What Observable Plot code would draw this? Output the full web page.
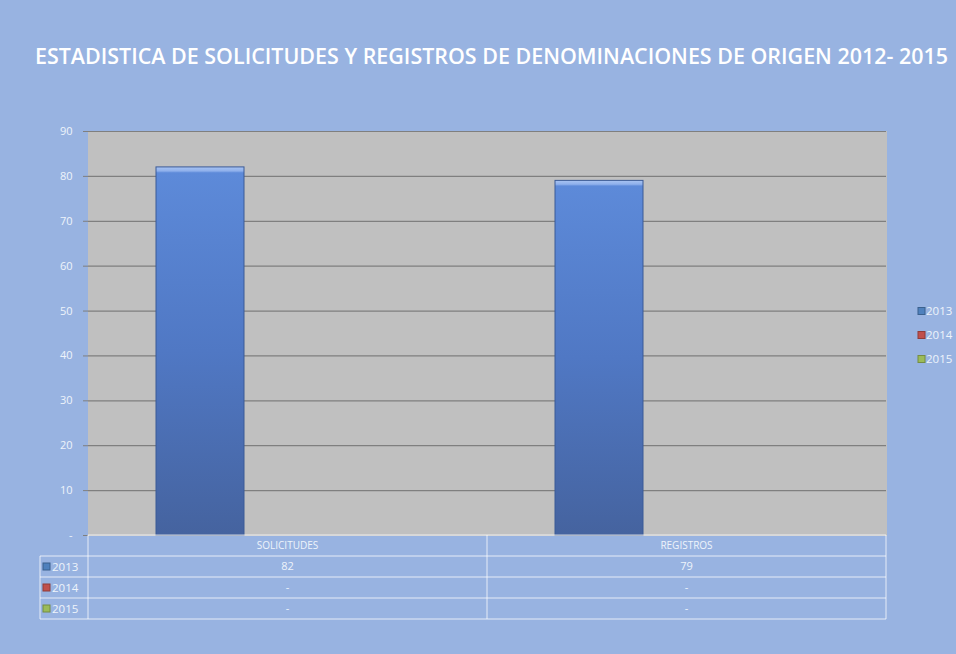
<!DOCTYPE html>
<html>
<head>
<meta charset="utf-8">
<script src="https://cdn.jsdelivr.net/npm/d3@7"></script>
<script src="https://cdn.jsdelivr.net/npm/@observablehq/plot@0.6"></script>
<style>
  html, body { margin: 0; padding: 0; background: #98b3e1; overflow: hidden; }
  #chart svg { display: block; }
</style>
</head>
<body>
<div id="chart"></div>
<script>
// ---- data ----
const titleText = "ESTADISTICA DE SOLICITUDES Y REGISTROS DE DENOMINACIONES DE ORIGEN 2012- 2015";
const categories = ["SOLICITUDES", "REGISTROS"];
const years = ["2013", "2014", "2015"];
const values2013 = [82, 79];
const values2014 = [null, null];
const values2015 = [null, null];
const yTicks = [0, 10, 20, 30, 40, 50, 60, 70, 80, 90];

// ---- styles ----
const seriesColors = ["#4f81bd", "#c0504d", "#9bbb59"];
const font = "'Open Sans', sans-serif";
const textColor = "#eef3fb";
const lineColor = "rgba(255,255,255,0.75)";

const seriesValues = [values2013, values2014, values2015];
const rows = categories.flatMap((c, i) =>
  years.map((y, j) => ({ category: c, year: y, value: seriesValues[j][i] }))
);

const W = 956, H = 654;
const plot = Plot.plot({
  width: W, height: H,
  marginTop: 131, marginBottom: 119, marginLeft: 88, marginRight: 70,
  style: { background: "transparent", fontFamily: font, overflow: "visible" },
  fx: { domain: categories, padding: 0, axis: null, label: null },
  x: { domain: years, paddingInner: 0, paddingOuter: 0.767, axis: null },
  y: { domain: [0, 90], axis: null },
  marks: [
    Plot.frame({ fill: "#c0c0c0", stroke: "#c0c0c0" }),
    Plot.gridY(yTicks.filter(d => d > 0), { stroke: "#7f7f7f", strokeOpacity: 1, strokeWidth: 1.2 }),
    Plot.axisY(yTicks, {
      tickSize: 5, tickPadding: 11, stroke: "#7f7f7f",
      tickFormat: d => d === 0 ? "-" : d,
      fill: textColor, fontSize: 11, label: null
    }),
    Plot.barY(rows.filter(d => d.value != null), {
      fx: "category", x: "year", y: "value",
      fill: "url(#barGrad)", stroke: "#3b5a96", strokeWidth: 1
    })
  ]
});
document.getElementById("chart").appendChild(plot);

const svg = d3.select(plot);

// gradient for bars
const defs = svg.insert("defs", ":first-child");
const g = defs.append("linearGradient").attr("id", "barGrad")
  .attr("x1", 0).attr("y1", 0).attr("x2", 0).attr("y2", 1);
[[0, "#a9c4f2"], [0.011, "#8fb0ec"], [0.016, "#5d8ad9"], [0.5, "#5078c4"], [1, "#45639f"]]
  .forEach(([o, c]) => g.append("stop").attr("offset", o).attr("stop-color", c));

// title
svg.append("text")
  .attr("x", 35).attr("y", 64)
  .attr("text-anchor", "start")
  .attr("fill", "#ffffff")
  .attr("font-family", "'Open Sans', sans-serif")
  .attr("font-size", 21.5)
  .attr("font-weight", 600)
  .attr("textLength", 913).attr("lengthAdjust", "spacingAndGlyphs")
  .text(titleText);

// data table under the plot
const fx = plot.scale("fx");
const yS = plot.scale("y");
const y0 = yS.apply(0);
const rowH = 21;
const left = fx.apply(categories[0]);
const bw = fx.bandwidth;
const right = fx.apply(categories[categories.length - 1]) + bw;
const legendLeft = 40;
const tbl = svg.append("g").attr("font-family", font);

// horizontal lines
tbl.append("line").attr("x1", left).attr("x2", right).attr("y1", y0).attr("y2", y0)
  .attr("stroke", lineColor);
for (let r = 1; r <= years.length + 1; r++) {
  tbl.append("line").attr("x1", legendLeft).attr("x2", right)
    .attr("y1", y0 + r * rowH).attr("y2", y0 + r * rowH).attr("stroke", lineColor);
}
// vertical lines
const yBottom = y0 + (years.length + 1) * rowH;
tbl.append("line").attr("x1", legendLeft).attr("x2", legendLeft)
  .attr("y1", y0 + rowH).attr("y2", yBottom).attr("stroke", lineColor);
categories.forEach(c => {
  const x = fx.apply(c);
  tbl.append("line").attr("x1", x).attr("x2", x).attr("y1", y0).attr("y2", yBottom).attr("stroke", lineColor);
});
tbl.append("line").attr("x1", right).attr("x2", right).attr("y1", y0).attr("y2", yBottom).attr("stroke", lineColor);

// header labels
categories.forEach(c => {
  tbl.append("text").attr("x", fx.apply(c) + bw / 2).attr("y", y0 + rowH / 2)
    .attr("dy", "0.35em").attr("text-anchor", "middle")
    .attr("fill", textColor).attr("font-size", 10).text(c);
});
// value rows
years.forEach((yr, j) => {
  const yc = y0 + (j + 1) * rowH + rowH / 2;
  tbl.append("rect").attr("x", legendLeft + 3).attr("y", yc - 3.5).attr("width", 7).attr("height", 7)
    .attr("fill", seriesColors[j]).attr("stroke", d3.color(seriesColors[j]).darker(0.8));
  tbl.append("text").attr("x", legendLeft + 12).attr("y", yc).attr("dy", "0.35em")
    .attr("text-anchor", "start")
    .attr("fill", textColor).attr("font-size", 11.5).text(yr);
  categories.forEach((c, i) => {
    const v = seriesValues[j][i];
    tbl.append("text").attr("x", fx.apply(c) + bw / 2).attr("y", yc).attr("dy", "0.35em")
      .attr("text-anchor", "middle").attr("fill", textColor).attr("font-size", 11)
      .text(v == null ? "-" : v);
  });
});

// right legend (clipped by window edge as in the original)
const legY = [311, 335, 359];
years.forEach((yr, j) => {
  svg.append("rect").attr("x", 918).attr("y", legY[j] - 3.5).attr("width", 7).attr("height", 7)
    .attr("fill", seriesColors[j]).attr("stroke", d3.color(seriesColors[j]).darker(0.8));
  svg.append("text").attr("x", 926).attr("y", legY[j]).attr("dy", "0.35em")
    .attr("text-anchor", "start")
    .attr("font-family", font).attr("font-size", 11.5).attr("fill", textColor).text(yr);
});
</script>
</body>
</html>
